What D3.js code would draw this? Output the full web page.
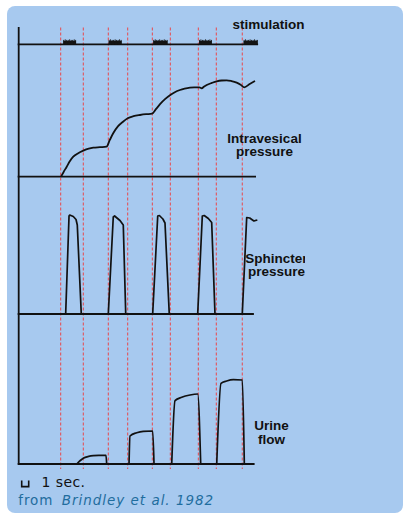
<!DOCTYPE html>
<html><head><meta charset="utf-8">
<script src="https://cdn.jsdelivr.net/npm/d3@7"></script>
<style>body{margin:0;background:#fff}svg{display:block}</style>
</head><body>
<svg id="c" width="403" height="515"></svg>
<script>
// ---- data (time in seconds, values in arbitrary units 0-100) ----
const markerTimes = [6.0, 9.23, 12.8, 15.57, 19.09, 21.66, 25.66, 28.23, 31.94];
const stimBursts = [[6.37, 8.19], [12.86, 14.71], [19.23, 21.23], [25.76, 27.57], [32.14, 34.09]];
const intravesical = [
  [6.04,0],[6.4,4.5],[6.86,10],[7.3,15.5],[7.8,20],[8.5,23.5],[9.23,26],[10.0,28],[10.66,29],[11.6,29.5],[12.55,30],
  [13.0,36.5],[13.5,43.4],[14.2,50.5],[14.9,55],[15.57,58.4],[16.4,60.5],[17.33,61.7],[18.2,62.5],[19.04,63],
  [19.6,67.5],[20.19,72.5],[20.9,77.5],[21.66,81.7],[22.3,84.5],[23.04,86.7],[23.7,88],[24.47,89],[25.2,89.3],[25.8,89.4],
  [26.14,88.4],[26.5,90.2],[26.86,91.7],[27.6,93.8],[28.29,95.4],[29.0,96.2],[29.71,96.4],[30.4,95.6],[31.14,94],[31.7,92],[32.23,89.4],
  [33.0,92.7],[33.76,95.7]
];
const sphincterPulses = [
  [[6.71,0],[7.19,98],[7.29,99],[7.8,97.5],[8.19,94.5],[8.37,89],[8.94,0]],
  [[12.8,0],[13.51,97],[13.7,98],[14.47,93.5],[14.94,89],[15.29,0]],
  [[19.14,0],[19.86,98],[20.1,98.5],[20.6,95],[20.9,91],[21.51,0]],
  [[25.57,0],[26.23,98],[26.5,98.5],[27.09,95.5],[27.57,91.5],[28.04,0]],
  [[31.94,0],[32.57,96.5],[33.0,96],[33.3,94.5],[33.6,93],[34.09,94]]
];
const urinePulses = [
  [[8.29,0],[8.8,3.5],[9.23,5.8],[10.0,7.6],[10.66,8.3],[11.6,8.6],[12.47,8.7],[12.57,0]],
  [[15.76,0],[15.9,28],[16.86,31.3],[17.8,32.7],[19.14,33],[19.33,0]],
  [[21.86,0],[22.33,63.3],[23.29,66.7],[24.47,69],[25.57,70],[26.0,0]],
  [[28.29,0],[28.9,80.7],[29.71,83],[30.66,84.3],[31.94,84],[32.23,0]]
];
const traceEnds = {stim: 34.2, intra: 33.9, sphincter: 33.6, urine: 33.7};
const labels = [
  {panel: "stim", lines: ["stimulation"]},
  {panel: "intra", lines: ["Intravesical", "pressure"]},
  {panel: "sphincter", lines: ["Sphincter", "pressure"]},
  {panel: "urine", lines: ["Urine", "flow"]}
];
const scaleBarSeconds = 1;
const scaleLabel = "1 sec.";
const sourcePrefix = "from";
const sourceText = "Brindley et al. 1982";

// ---- drawing ----
const svg = d3.select("#c");
svg.append("rect").attr("x", 7).attr("y", 6).attr("width", 396).attr("height", 507)
  .attr("rx", 8).attr("fill", "#a7c9ef");

const x = d3.scaleLinear().domain([0, 34]).range([18.7, 256.7]);
const yStim = d3.scaleLinear().domain([0, 100]).range([44.3, -55.7]);
const yIntra = d3.scaleLinear().domain([0, 100]).range([176.7, 76.7]);
const ySph = d3.scaleLinear().domain([0, 100]).range([314, 214]);
const yUr = d3.scaleLinear().domain([0, 100]).range([464, 364]);

svg.append("defs").append("clipPath").attr("id", "lc")
  .append("rect").attr("x", 0).attr("y", 0).attr("width", 305).attr("height", 515);

// red dashed markers
svg.append("g").selectAll("line").data(markerTimes).join("line")
  .attr("x1", d => x(d)).attr("x2", d => x(d))
  .attr("y1", 27.5).attr("y2", 469)
  .attr("stroke", "#f23a3a").attr("stroke-width", 1)
  .attr("stroke-dasharray", "3,2").attr("opacity", 0.9);

// axes
const axisG = svg.append("g").attr("stroke", "#111").attr("stroke-width", 1.8);
axisG.append("line").attr("x1", x(0)).attr("x2", x(0)).attr("y1", 27).attr("y2", yUr(0) + 0.5);
[[yStim, traceEnds.stim], [yIntra, traceEnds.intra], [ySph, traceEnds.sphincter], [yUr, traceEnds.urine]]
  .forEach(([ys, end]) => {
    axisG.append("line").attr("x1", x(0) - 1).attr("x2", x(end)).attr("y1", ys(0)).attr("y2", ys(0));
  });

// stimulation bursts
const sg = svg.append("g").attr("fill", "#151515");
stimBursts.forEach(([a, b]) => {
  sg.append("rect").attr("x", x(a)).attr("y", yStim(0) - 3.6)
    .attr("width", x(b) - x(a)).attr("height", 3.6);
  const ticks = d3.range(x(a), x(b), 1.5);
  sg.selectAll(null).data(ticks).join("rect")
    .attr("x", d => d).attr("width", 0.8)
    .attr("y", (d, i) => yStim(0) - (i % 3 === 1 ? 5 : 4.4))
    .attr("height", (d, i) => (i % 3 === 1 ? 5 : 4.4));
});

// intravesical pressure
svg.append("path").datum(intravesical)
  .attr("d", d3.line().x(d => x(d[0])).y(d => yIntra(d[1])).curve(d3.curveMonotoneX))
  .attr("fill", "none").attr("stroke", "#111").attr("stroke-width", 1.8);

// sphincter pressure
svg.append("g").selectAll("path").data(sphincterPulses).join("path")
  .attr("d", d3.line().x(d => x(d[0])).y(d => ySph(d[1])))
  .attr("fill", "none").attr("stroke", "#111").attr("stroke-width", 1.7)
  .attr("stroke-linejoin", "round");

// urine flow
svg.append("g").selectAll("path").data(urinePulses).join("path")
  .attr("d", d3.line().x(d => x(d[0])).y(d => yUr(d[1])).curve(d3.curveMonotoneX))
  .attr("fill", "none").attr("stroke", "#111").attr("stroke-width", 1.7)
  .attr("stroke-linejoin", "round");

// labels
const labelPos = {
  stim: {cx: 268.5, y: 29.3},
  intra: {cx: 264.5, y: 142.7},
  sphincter: {cx: 276.5, y: 262.7},
  urine: {cx: 271.5, y: 430}
};
const lg = svg.append("g").attr("clip-path", "url(#lc)")
  .attr("font-family", "'Liberation Sans', Arial, sans-serif")
  .attr("font-weight", "bold").attr("font-size", 13.5).attr("fill", "#111")
  .attr("text-anchor", "middle");
labels.forEach(l => {
  const p = labelPos[l.panel];
  l.lines.forEach((t, i) => {
    lg.append("text").attr("x", p.cx).attr("y", p.y + i * 13.6).text(t);
  });
});

// scale bar (1 sec)
const sbX0 = 21.7, sbW = x(scaleBarSeconds) - x(0);
svg.append("path")
  .attr("d", `M${sbX0},480.5 V486.6 H${sbX0 + sbW} V480.5`)
  .attr("fill", "none").attr("stroke", "#111").attr("stroke-width", 1.6);
svg.append("text").attr("x", 41.5).attr("y", 486.7)
  .attr("font-family", "'DejaVu Sans', sans-serif").attr("font-size", 14)
  .attr("fill", "#111").attr("textLength", 43.5).attr("lengthAdjust", "spacing")
  .text(scaleLabel);

// source
svg.append("text").attr("x", 18.3).attr("y", 505)
  .attr("font-family", "'DejaVu Sans', sans-serif").attr("font-size", 13.5)
  .attr("fill", "#1f6d9e").attr("textLength", 34).attr("lengthAdjust", "spacing")
  .text(sourcePrefix);
svg.append("text").attr("x", 61.7).attr("y", 505)
  .attr("font-family", "'DejaVu Sans', sans-serif").attr("font-size", 13.5)
  .attr("font-style", "italic")
  .attr("fill", "#1f6d9e").attr("textLength", 151.5).attr("lengthAdjust", "spacing")
  .text(sourceText);
</script>
</body></html>
